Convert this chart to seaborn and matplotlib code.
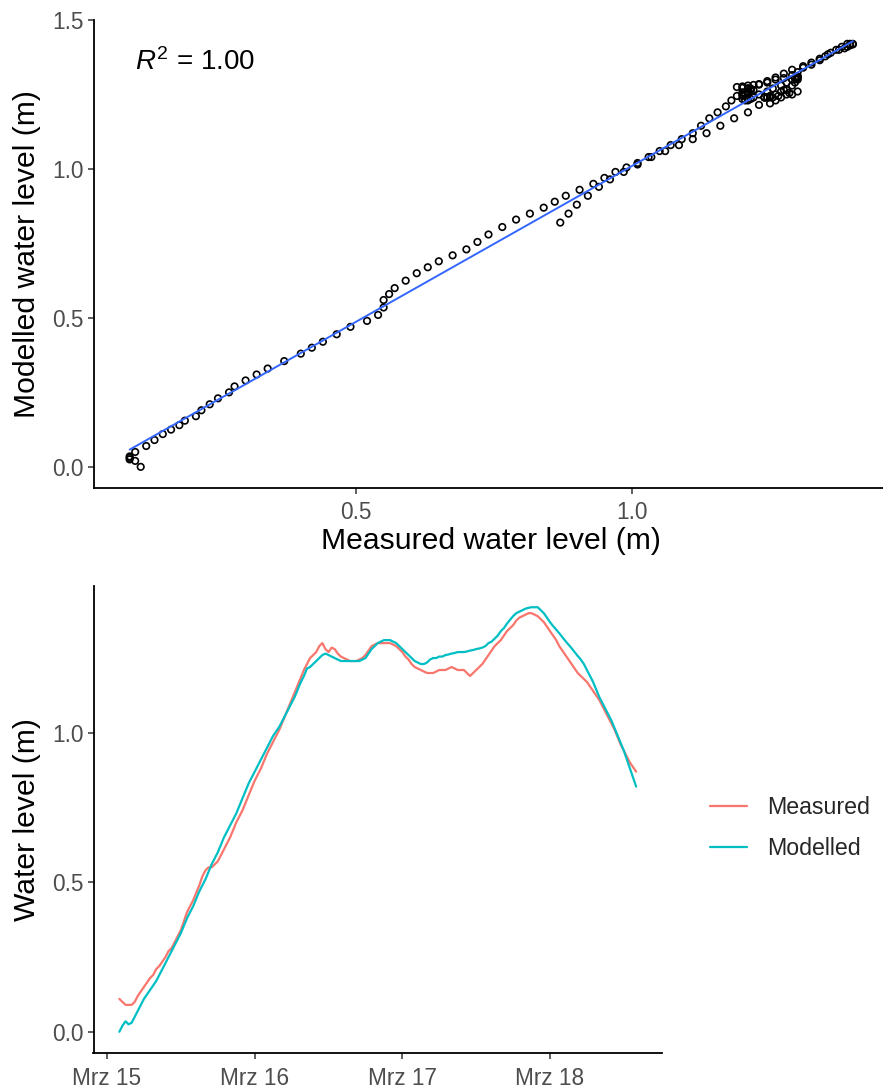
import matplotlib
matplotlib.use("Agg")
import numpy as np
import pandas as pd
import matplotlib.pyplot as plt
import seaborn as sns

# hours since 15 March 00:00, half-hourly readings
hours = np.arange(2, 86.5, 0.5)
measured = [0.11, 0.10, 0.09, 0.09, 0.09, 0.10, 0.12, 0.135, 0.15, 0.165,
            0.18, 0.19, 0.21, 0.22, 0.235, 0.25, 0.27, 0.28, 0.30, 0.32,
            0.34, 0.37, 0.40, 0.42, 0.44, 0.465, 0.49, 0.52, 0.54, 0.55,
            0.55, 0.56, 0.57, 0.59, 0.61, 0.63, 0.65, 0.675, 0.70, 0.72,
            0.74, 0.765, 0.79, 0.815, 0.84, 0.86, 0.88, 0.905, 0.93, 0.95,
            0.97, 0.99, 1.01, 1.035, 1.06, 1.085, 1.11, 1.135, 1.16, 1.185,
            1.21, 1.23, 1.25, 1.26, 1.27, 1.29, 1.30, 1.28, 1.27, 1.285,
            1.28, 1.265, 1.255, 1.25, 1.245, 1.24, 1.24, 1.24, 1.245, 1.25,
            1.26, 1.275, 1.29, 1.295, 1.30, 1.30, 1.30, 1.30, 1.30, 1.295,
            1.29, 1.28, 1.27, 1.255, 1.245, 1.23, 1.22, 1.215, 1.21, 1.205,
            1.20, 1.20, 1.20, 1.205, 1.21, 1.21, 1.21, 1.215, 1.22, 1.215,
            1.21, 1.21, 1.21, 1.20, 1.19, 1.20, 1.21, 1.22, 1.23, 1.245,
            1.26, 1.275, 1.29, 1.30, 1.31, 1.325, 1.34, 1.35, 1.36, 1.375,
            1.385, 1.39, 1.395, 1.40, 1.40, 1.395, 1.39, 1.38, 1.37, 1.355,
            1.34, 1.325, 1.31, 1.29, 1.275, 1.26, 1.245, 1.23, 1.215, 1.20,
            1.19, 1.18, 1.17, 1.155, 1.14, 1.125, 1.11, 1.09, 1.07, 1.05,
            1.03, 1.01, 0.985, 0.96, 0.94, 0.92, 0.90, 0.885, 0.87]
modelled = [0.00, 0.02, 0.035, 0.025, 0.03, 0.05, 0.07, 0.09, 0.11, 0.125,
            0.14, 0.155, 0.17, 0.19, 0.21, 0.23, 0.25, 0.27, 0.29, 0.31,
            0.33, 0.355, 0.38, 0.40, 0.42, 0.445, 0.47, 0.49, 0.51, 0.535,
            0.56, 0.58, 0.60, 0.625, 0.65, 0.67, 0.69, 0.71, 0.73, 0.755,
            0.78, 0.805, 0.83, 0.85, 0.87, 0.89, 0.91, 0.93, 0.95, 0.97,
            0.99, 1.005, 1.02, 1.04, 1.06, 1.08, 1.10, 1.12, 1.145, 1.17,
            1.19, 1.215, 1.22, 1.23, 1.24, 1.25, 1.26, 1.265, 1.26, 1.255,
            1.25, 1.245, 1.24, 1.24, 1.24, 1.24, 1.24, 1.24, 1.24, 1.245,
            1.25, 1.265, 1.28, 1.29, 1.30, 1.305, 1.31, 1.31, 1.31, 1.305,
            1.30, 1.29, 1.28, 1.27, 1.26, 1.25, 1.24, 1.235, 1.23, 1.23,
            1.235, 1.245, 1.25, 1.25, 1.255, 1.255, 1.26, 1.262, 1.265, 1.267,
            1.27, 1.27, 1.27, 1.272, 1.275, 1.277, 1.28, 1.282, 1.285, 1.29,
            1.30, 1.305, 1.315, 1.325, 1.34, 1.35, 1.365, 1.378, 1.39, 1.40,
            1.405, 1.41, 1.415, 1.418, 1.42, 1.42, 1.42, 1.41, 1.40, 1.385,
            1.37, 1.357, 1.345, 1.333, 1.32, 1.307, 1.295, 1.283, 1.27, 1.257,
            1.245, 1.23, 1.21, 1.19, 1.17, 1.145, 1.12, 1.10, 1.08, 1.06,
            1.04, 1.015, 0.99, 0.965, 0.94, 0.91, 0.88, 0.85, 0.82]
day_ticks = ["2019-03-15", "2019-03-16", "2019-03-17", "2019-03-18"]
day_labels = ["Mrz 15", "Mrz 16", "Mrz 17", "Mrz 18"]
r2_label = r"$R^2$ = 1.00"

sns.set_theme(style="ticks")
plt.rcParams["font.family"] = ["Liberation Sans", "DejaVu Sans"]
plt.rcParams["mathtext.fontset"] = "custom"
plt.rcParams["mathtext.rm"] = "Liberation Sans"
plt.rcParams["mathtext.it"] = "Liberation Sans:italic"
plt.rcParams["axes.linewidth"] = 1.3
plt.rcParams["axes.edgecolor"] = "black"

tick_fs = 16.3
label_fs = 21.7

times = pd.Timestamp("2019-03-15") + pd.to_timedelta(hours, unit="h")
df = pd.DataFrame({"time": times, "Measured": measured, "Modelled": modelled})
long = df.melt(id_vars="time", var_name="series", value_name="level")


def expand(vals, frac=0.05):
    lo, hi = min(vals), max(vals)
    pad = (hi - lo) * frac
    return lo - pad, hi + pad


def style_axes(ax):
    sns.despine(ax=ax)
    ax.tick_params(labelsize=tick_fs, labelcolor="#4D4D4D", color="#333333",
                   length=4, width=1.1, pad=3)


W, H = 883, 1091
fig = plt.figure(figsize=(W / 100, H / 100), dpi=100)

# top: measured vs modelled
ax1 = fig.add_axes([93.5 / W, 1 - 488 / H, (889 - 93.5) / W, (488 - 20) / H])
sns.scatterplot(x=measured, y=modelled, ax=ax1, color="none", edgecolor="black",
                s=22, linewidth=1.2)
sns.regplot(x=measured, y=modelled, ax=ax1, scatter=False, ci=None,
            line_kws=dict(color="#3366FF", lw=1.4))
ax1.set_xlim(*expand(measured))
ax1.set_ylim(*expand(modelled))
ax1.set_xticks([0.5, 1.0])
ax1.set_yticks([0.0, 0.5, 1.0, 1.5])
ax1.set_xticklabels(["0.5", "1.0"])
ax1.set_yticklabels(["0.0", "0.5", "1.0", "1.5"])
ax1.set_xlabel("Measured water level (m)", fontsize=label_fs, color="black")
ax1.set_ylabel("Modelled water level (m)", fontsize=label_fs, color="black")
ax1.text(0.1, 1.36, r2_label, fontsize=20, ha="left", va="center", color="black")
style_axes(ax1)
ax1.tick_params(axis="x", pad=5)

# bottom: time series
ax2 = fig.add_axes([93.5 / W, 1 - 1053 / H, (662 - 93.5) / W, (1053 - 586) / H])
sns.lineplot(data=long, x="time", y="level", hue="series",
             palette={"Measured": "#F8766D", "Modelled": "#00BFC4"},
             lw=1.6, ax=ax2)
span = times[-1] - times[0]
ax2.set_xlim(times[0] - span * 0.05, times[-1] + span * 0.05)
ax2.set_ylim(*expand(long["level"]))
ax2.set_xticks(pd.to_datetime(day_ticks))
ax2.set_xticklabels(day_labels)
ax2.set_yticks([0.0, 0.5, 1.0])
ax2.set_yticklabels(["0.0", "0.5", "1.0"])
ax2.set_xlabel("")
ax2.set_ylabel("Water level (m)", fontsize=label_fs, color="black")
style_axes(ax2)
ax2.tick_params(axis="x", pad=6)

handles, labels = ax2.get_legend_handles_labels()
ax2.legend(handles, labels, loc="center left",
           bbox_to_anchor=(710 / W, 1 - 828 / H), bbox_transform=fig.transFigure,
           frameon=False, fontsize=16.7, handlelength=1.6, handletextpad=0.87,
           labelspacing=0.8, borderpad=0, borderaxespad=0)

ax1.yaxis.set_label_coords(-(93.5 - 41) / (889 - 93.5), 0.5)
ax2.yaxis.set_label_coords(-(93.5 - 41) / (662 - 93.5), 0.5)
ax1.xaxis.set_label_coords(0.5, -(527 - 488) / (488 - 20))

fig.savefig("out.png", dpi=100)
